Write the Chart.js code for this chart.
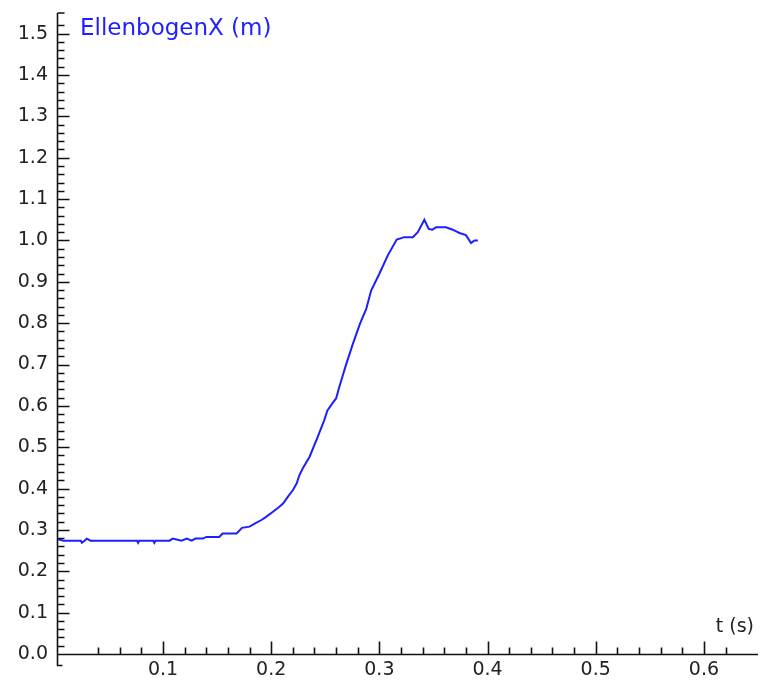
<!DOCTYPE html>
<html>
<head>
<meta charset="utf-8">
<script src="https://cdn.jsdelivr.net/npm/chart.js@4/dist/chart.umd.min.js"></script>
<style>
  html, body { margin: 0; padding: 0; background: #ffffff; }
  #wrap { width: 760px; height: 688px; position: relative; }
</style>
</head>
<body>
<div id="wrap"><canvas id="c" width="760" height="688"></canvas></div>
<script>
// ---- data ----
const timeS = [0.002, 0.008, 0.024, 0.025, 0.0275, 0.0295, 0.033, 0.076, 0.077, 0.078,
  0.091, 0.092, 0.093, 0.106, 0.109, 0.117, 0.122, 0.1265, 0.130, 0.137,
  0.140, 0.152, 0.155, 0.168, 0.173, 0.180, 0.186, 0.191, 0.195, 0.2016,
  0.207, 0.211, 0.2165, 0.220, 0.2235, 0.226, 0.229, 0.2355, 0.243, 0.249,
  0.252, 0.257, 0.260, 0.263, 0.269, 0.2755, 0.2816, 0.2847, 0.2878, 0.2924,
  0.300, 0.3078, 0.316, 0.323, 0.331, 0.3355, 0.3416, 0.3456, 0.349, 0.3525,
  0.3616, 0.3678, 0.374, 0.380, 0.3848, 0.3878, 0.391];
const ellenbogenX = [0.278, 0.274, 0.274, 0.269, 0.274, 0.279, 0.274, 0.274, 0.269, 0.274,
  0.274, 0.269, 0.274, 0.274, 0.279, 0.274, 0.279, 0.274, 0.279, 0.279,
  0.283, 0.283, 0.2915, 0.2915, 0.305, 0.308, 0.317, 0.324, 0.331, 0.344,
  0.355, 0.364, 0.384, 0.396, 0.412, 0.432, 0.448, 0.477, 0.525, 0.565,
  0.589, 0.608, 0.618, 0.646, 0.698, 0.750, 0.795, 0.815, 0.834, 0.879,
  0.9195, 0.964, 1.002, 1.008, 1.008, 1.020, 1.050, 1.028, 1.026, 1.032,
  1.032, 1.026, 1.018, 1.013, 0.994, 1.000, 1.000];
const seriesLabel = 'EllenbogenX (m)';
const xAxisLabel = 't (s)';
const xRange = [0.002, 0.65];
const yRange = [0, 1.55];
const minorStep = 0.02;
const majorStep = 0.1;

const LINE_BLUE = 'rgb(30,30,255)';
const FONT = '"DejaVu Sans", sans-serif';

function isMultiple(v, step) {
  const r = v / step;
  return Math.abs(r - Math.round(r)) < 1e-6;
}

const axisPlugin = {
  id: 'axisPlugin',
  afterDraw(chart) {
    const ctx = chart.ctx;
    const xs = chart.scales.x, ys = chart.scales.y;
    const a = chart.chartArea;
    const x0 = Math.round(a.left) + 0.5;
    const y0 = Math.round(a.bottom) + 0.5;
    ctx.save();
    ctx.strokeStyle = '#111';
    ctx.lineWidth = 1.6;
    ctx.beginPath();
    // y axis with small caps
    ctx.moveTo(x0, a.top);
    ctx.lineTo(x0, y0 + 11);
    ctx.lineTo(x0 + 5, y0 + 11);
    ctx.moveTo(x0, a.top);
    ctx.lineTo(x0 + 7, a.top);
    // x axis
    ctx.moveTo(x0, y0);
    ctx.lineTo(a.right, y0);
    // y ticks (inward)
    ys.ticks.forEach(t => {
      if (!isMultiple(t.value, minorStep)) return;
      const py = Math.round(ys.getPixelForValue(t.value)) + 0.5;
      const len = isMultiple(t.value, majorStep) ? 12 : 7;
      ctx.moveTo(x0, py);
      ctx.lineTo(x0 + len, py);
    });
    // x ticks (inward)
    xs.ticks.forEach(t => {
      if (!isMultiple(t.value, minorStep) || t.value <= 0.001) return;
      const px = Math.round(xs.getPixelForValue(t.value)) + 0.5;
      const len = isMultiple(t.value, majorStep) ? 13 : 7;
      ctx.moveTo(px, y0);
      ctx.lineTo(px, y0 - len);
    });
    ctx.stroke();
    // axis titles
    ctx.fillStyle = LINE_BLUE;
    ctx.font = '23px ' + FONT;
    ctx.textBaseline = 'alphabetic';
    ctx.textAlign = 'left';
    ctx.fillText(seriesLabel, 80, 35);
    ctx.fillStyle = '#222';
    ctx.font = '19px ' + FONT;
    ctx.textAlign = 'right';
    ctx.fillText(xAxisLabel, a.right - 4, 632);
    ctx.restore();
  }
};

new Chart(document.getElementById('c'), {
  type: 'line',
  data: {
    datasets: [{
      label: seriesLabel,
      data: timeS.map((t, i) => ({ x: t, y: ellenbogenX[i] })),
      borderColor: LINE_BLUE,
      backgroundColor: LINE_BLUE,
      borderWidth: 2,
      pointRadius: 0,
      tension: 0,
      fill: false
    }]
  },
  options: {
    responsive: false,
    animation: false,
    devicePixelRatio: 1,
    layout: { padding: { top: 13, right: 2, left: 0, bottom: 0 } },
    plugins: { legend: { display: false }, tooltip: { enabled: false }, title: { display: false } },
    scales: {
      x: {
        type: 'linear',
        min: xRange[0], max: xRange[1],
        border: { display: false },
        grid: { display: false, drawTicks: false },
        afterFit(s) { s.height = 34; s.paddingLeft = 0; s.paddingRight = 0; },
        ticks: {
          stepSize: minorStep,
          autoSkip: false,
          maxRotation: 0,
          padding: 5,
          color: '#222',
          font: { family: FONT, size: 19 },
          callback(v) { return (isMultiple(v, majorStep) && v > 0.001) ? v.toFixed(1) : ''; }
        }
      },
      y: {
        type: 'linear',
        min: yRange[0], max: yRange[1],
        border: { display: false },
        grid: { display: false, drawTicks: false },
        afterFit(s) { s.width = 57; s.paddingTop = 0; s.paddingBottom = 0; },
        ticks: {
          stepSize: minorStep,
          autoSkip: false,
          padding: 9,
          color: '#222',
          font: { family: FONT, size: 19 },
          callback(v) { return isMultiple(v, majorStep) ? v.toFixed(1) : ''; }
        }
      }
    }
  },
  plugins: [axisPlugin]
});
</script>
</body>
</html>
